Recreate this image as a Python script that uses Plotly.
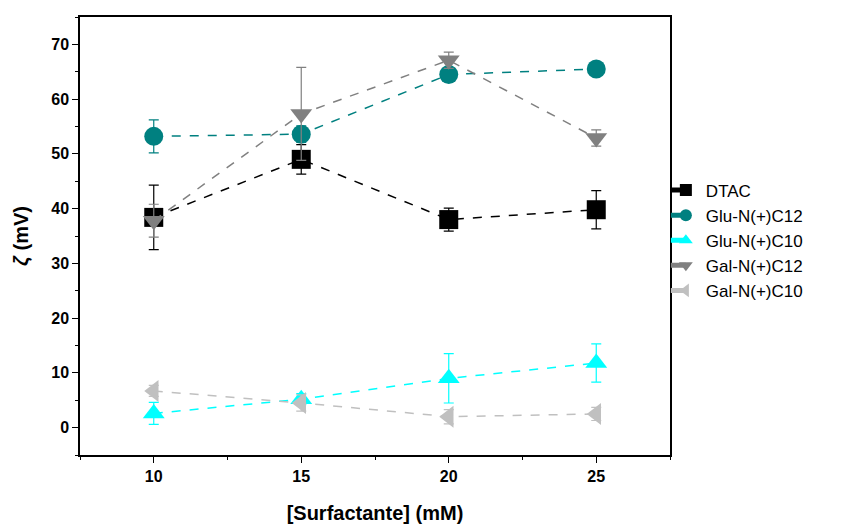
import plotly.graph_objects as go

conc = [10, 15, 20, 25]

dtac = [38.4, 49.0, 38.0, 39.8]
dtac_err = [5.9, 2.7, 2.1, 3.5]

glu_c12 = [53.2, 53.6, 64.5, 65.5]
glu_c12_err = [3.0, 1.5, 0.8, 0.5]

glu_c10 = [2.6, 5.2, 9.0, 11.8]
glu_c10_err = [2.0, 1.0, 4.5, 3.5]

gal_c12 = [37.8, 57.3, 67.1, 52.9]
gal_c12_err = [3.0, 8.5, 1.5, 1.5]

gal_c10 = [6.7, 4.5, 2.0, 2.5]
gal_c10_err = [1.0, 1.5, 1.3, 1.2]

names = ["DTAC", "Glu-N(+)C12", "Glu-N(+)C10", "Gal-N(+)C12", "Gal-N(+)C10"]
series = [dtac, glu_c12, glu_c10, gal_c12, gal_c10]
errors = [dtac_err, glu_c12_err, glu_c10_err, gal_c12_err, gal_c10_err]
colors = ["#000000", "#008080", "#00FFFF", "#808080", "#C0C0C0"]
symbols = ["square", "circle", "triangle-up", "triangle-down", "triangle-left"]

fig = go.Figure()
for name, y, e, c, s in zip(names, series, errors, colors, symbols):
    fig.add_trace(go.Scatter(
        x=conc, y=y, name=name, mode="lines+markers",
        line=dict(color=c, width=1.5, dash="dash"),
        marker=dict(symbol=s, size=19, color=c, line=dict(width=0)),
        error_y=dict(type="data", array=e, visible=True, color=c,
                     thickness=1.2, width=5),
    ))

fig.update_layout(
    width=843, height=529,
    margin=dict(l=72, r=181, t=7, b=82),
    paper_bgcolor="white", plot_bgcolor="white",
    font=dict(family="Arial, Liberation Sans, sans-serif", color="black"),
    legend=dict(x=0.993, y=0.645, xanchor="left", yanchor="top",
                font=dict(size=17), bgcolor="rgba(0,0,0,0)",
                tracegroupgap=0, itemsizing="constant"),
    xaxis=dict(
        range=[7.5, 27.5], tickvals=[10, 15, 20, 25],
        ticks="outside", ticklen=6, tickwidth=1.2, tickcolor="black",
        minor=dict(tickvals=[7.5, 12.5, 17.5, 22.5, 27.5], ticks="outside",
                   ticklen=3, tickwidth=1.2, tickcolor="black"),
        showline=True, linecolor="black", linewidth=1.5, mirror=True,
        showgrid=False, zeroline=False,
        tickfont=dict(family="Arial", size=16, weight="bold"),
        title=dict(text="<b>[Surfactante] (mM)</b>", font=dict(size=20), standoff=22),
    ),
    yaxis=dict(
        range=[-5, 75], tickvals=[0, 10, 20, 30, 40, 50, 60, 70],
        ticks="outside", ticklen=6, tickwidth=1.2, tickcolor="black",
        minor=dict(tickvals=[-5, 5, 15, 25, 35, 45, 55, 65, 75], ticks="outside",
                   ticklen=3, tickwidth=1.2, tickcolor="black"),
        showline=True, linecolor="black", linewidth=1.5, mirror=True,
        showgrid=False, zeroline=False,
        tickfont=dict(family="Arial", size=16, weight="bold"),
        title=dict(text="<b><i>ζ</i> (mV)</b>", font=dict(size=20), standoff=17),
    ),
)

fig.write_html("out.html")
